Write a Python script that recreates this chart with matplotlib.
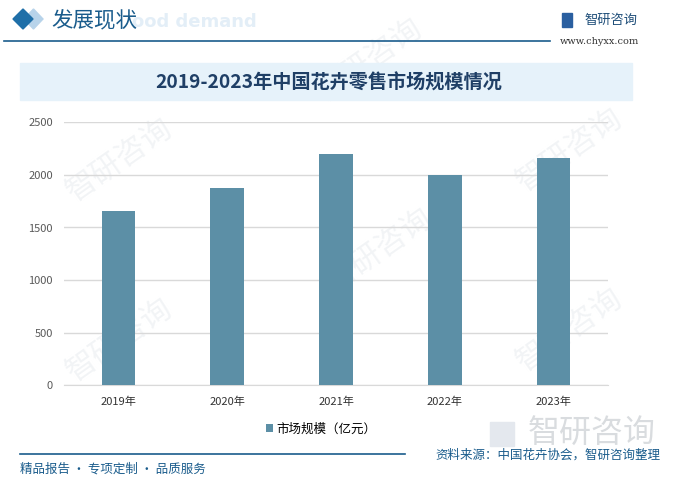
import matplotlib.pyplot as plt
from matplotlib.patches import Rectangle, Polygon

plt.rcParams['font.family'] = ['Noto Sans CJK SC', 'DejaVu Sans']

# data
years = ['2019年', '2020年', '2021年', '2022年', '2023年']
market = [1657, 1875, 2199, 1995, 2161]
yticks = [0, 500, 1000, 1500, 2000, 2500]

dark = '#1a5c8c'
bar_c = '#5c8fa6'

fig = plt.figure(figsize=(6.76, 4.86), dpi=100)
W, H = 676, 486

def fx(x): return x / W
def fy(y): return 1 - y / H

# faint watermarks, kept behind the axes
for (x, y) in [(120, 160), (370, 60), (120, 340), (380, 250), (570, 150), (570, 330)]:
    fig.text(fx(x), fy(y), '智研咨询', fontsize=22, color='#f2f4f6', rotation=35,
             ha='center', va='center', zorder=-2)

# header
fig.patches.append(Polygon([[fx(24), fy(19)], [fx(33.5), fy(9)], [fx(43), fy(19)], [fx(33.5), fy(29)]],
                           closed=True, transform=fig.transFigure, color='#b7d3ea', zorder=-1))
fig.patches.append(Polygon([[fx(13), fy(19)], [fx(23), fy(9)], [fx(33), fy(19)], [fx(23), fy(29)]],
                           closed=True, transform=fig.transFigure, color='#1f6fa8'))
fig.text(fx(132), fy(22), 'ood demand', fontsize=13, color='#e3eef7', fontweight='bold',
         ha='left', va='center', family='DejaVu Sans', zorder=-1)
fig.text(fx(51), fy(20), '发展现状', fontsize=15.5, color=dark, ha='left', va='center')
fig.add_artist(plt.Line2D([fx(4), fx(550)], [fy(41), fy(41)], color=dark, lw=1.2))
fig.patches.append(Rectangle((fx(562), fy(27)), 10 / W, 14 / H, transform=fig.transFigure,
                             color='#2a5fa0'))
fig.text(fx(584), fy(20), '智研咨询', fontsize=9.5, color='#1f4e79', ha='left', va='center')
fig.text(fx(599), fy(41), 'www.chyxx.com', fontsize=7, color='#333333', ha='center', va='center',
         family='DejaVu Serif')

# title box
fig.patches.append(Rectangle((fx(20), fy(100)), 612 / W, 37 / H, transform=fig.transFigure,
                             color='#e6f2fa', zorder=-1))
fig.text(fx(329), fy(83), '2019-2023年中国花卉零售市场规模情况', fontsize=13.8, color='#1f3f66',
         ha='center', va='center', fontweight='bold')

# chart
ax = fig.add_axes([fx(64), fy(385.3), 544 / W, 263 / H])
ax.patch.set_alpha(0)
x = range(len(years))
ax.bar(x, market, width=0.31, color=bar_c, zorder=3, label='市场规模（亿元）')
ax.set_xlim(-0.5, 4.5)
ax.set_ylim(0, 2500)
ax.set_yticks(yticks)
ax.set_xticks(list(x))
ax.set_xticklabels(years)
ax.grid(axis='y', color='#d9d9d9', lw=1, zorder=0)
for s in ['top', 'right', 'left']:
    ax.spines[s].set_visible(False)
ax.spines['bottom'].set_color('#d9d9d9')
ax.tick_params(axis='y', length=0, labelsize=8, labelcolor='#595959', pad=8)
ax.tick_params(axis='x', length=0, labelsize=8, labelcolor='#333333', pad=8)

fig.legend(loc='center', bbox_to_anchor=(fx(321), fy(429)), frameon=False, fontsize=9,
           handlelength=0.55, handleheight=0.55, handletextpad=0.3)

# footer
fig.patches.append(Rectangle((fx(490), fy(446)), 24 / W, 24 / H, transform=fig.transFigure,
                             color='#e4e8ee', zorder=-1))
fig.text(fx(592), fy(433), '智研咨询', fontsize=23, color='#d9dcdf', ha='center', va='center', zorder=-1)
fig.add_artist(plt.Line2D([fx(20), fx(405)], [fy(454), fy(454)], color=dark, lw=1.2))
fig.text(fx(20), fy(469), '精品报告 · 专项定制 · 品质服务', fontsize=9, color=dark, ha='left', va='center')
fig.text(fx(660), fy(455), '资料来源：中国花卉协会，智研咨询整理', fontsize=9, color=dark,
         ha='right', va='center')

fig.savefig('out.png', dpi=100)
